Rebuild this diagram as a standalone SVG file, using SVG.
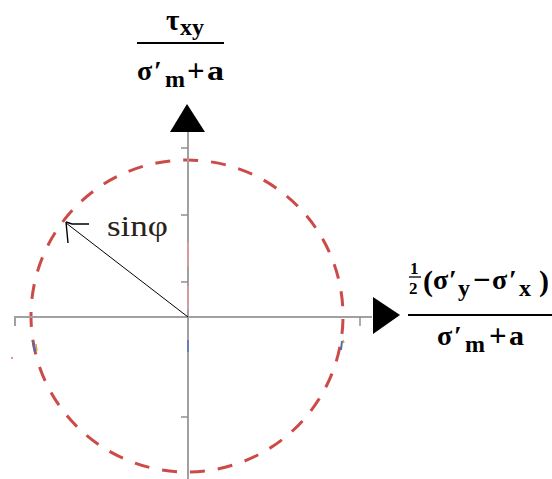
<svg xmlns="http://www.w3.org/2000/svg" width="552" height="479" viewBox="0 0 552 479">
<style>
.ax{stroke:#a0a0a0;stroke-width:2;fill:none}
.tk{stroke:#909090;stroke-width:1.5;fill:none}
.lbl{font-family:"Liberation Serif","DejaVu Serif",serif;font-weight:bold;fill:#000}
.big{font-size:28px}
.sub{font-size:24px}
.circ{fill:none;stroke:#cc4a48;stroke-width:3;stroke-dasharray:15 13;stroke-dashoffset:-3}
</style>
<rect width="552" height="479" fill="#fff"/>
<g id="circle">
<circle class="circ" cx="187" cy="316" r="156"/>
</g>
<g id="connectors">
<g id="y-axis">
<line class="ax" x1="188" y1="132" x2="188" y2="479"/>
<path class="tk" d="M181,148H188M181,215H188M181,282H188M181,417H188"/>
<line x1="188" y1="242" x2="188" y2="266" stroke="#e49a9a" stroke-width="1.5"/>
<line x1="188" y1="286" x2="188" y2="310" stroke="#e49a9a" stroke-width="1.5"/>
<line x1="188" y1="340" x2="188" y2="352" stroke="#6a7fb5" stroke-width="2"/>
<polygon points="187,104 170,132 205,132" fill="#000"/>
</g>
<g id="x-axis">
<polyline class="ax" points="15,326 15,317 372,317"/>
<line class="tk" x1="360" y1="317" x2="360" y2="326"/>
<polygon points="373,297 373,334 400,315" fill="#000"/>
</g>
<g id="sin-arrow">
<line x1="188" y1="317" x2="66" y2="223" stroke="#000" stroke-width="1"/>
<path d="M89,224H72M66,222L68,243M66,222L72,224" stroke="#000" stroke-width="1.4" fill="none"/>
</g>
<g id="marks">
<path d="M33,342L35,352" stroke="#4a6fb5" stroke-width="2"/>
<path d="M36,344L37,351" stroke="#e0a040" stroke-width="1.5"/>
<path d="M342,341L341,350" stroke="#4a6fb5" stroke-width="2"/>
<path d="M343,340L344,343" stroke="#e0a040" stroke-width="1.5"/>
<circle cx="12" cy="358" r="1" fill="#e07050"/>
</g>
</g>
<g id="label-sin">
<text x="107" y="236" font-family="'Liberation Serif','Times New Roman',serif" font-size="29" textLength="61" lengthAdjust="spacingAndGlyphs" fill="#2a2218">sinφ</text>
</g>
<g id="label-y">
<text class="lbl"><tspan x="166" y="30" font-size="29">τ</tspan><tspan class="sub" x="180" y="35">xy</tspan></text>
<line x1="137" y1="43" x2="224" y2="43" stroke="#000" stroke-width="2"/>
<text class="lbl"><tspan class="big" x="137" y="80">σ</tspan><tspan class="big" x="154" y="80">′</tspan><tspan class="sub" x="165" y="87">m</tspan><tspan x="187" y="81" font-size="31">+</tspan><tspan class="big" x="207" y="80" textLength="17" lengthAdjust="spacingAndGlyphs">a</tspan></text>
</g>
<g id="label-x">
<text class="lbl" font-size="17"><tspan x="410" y="274">1</tspan><tspan x="409" y="294">2</tspan></text>
<line x1="409" y1="277" x2="421" y2="277" stroke="#000" stroke-width="1.3"/>
<text class="lbl"><tspan x="423" y="291" font-size="30">(</tspan><tspan class="big" x="433" y="289">σ</tspan><tspan class="big" x="449" y="289">′</tspan><tspan class="sub" x="458" y="296">y</tspan><tspan x="473" y="290" font-size="31">−</tspan><tspan class="big" x="492" y="289">σ</tspan><tspan class="big" x="509" y="289">′</tspan><tspan class="sub" x="519" y="296">x</tspan><tspan x="539" y="291" font-size="30">)</tspan></text>
<line x1="408" y1="315" x2="552" y2="315" stroke="#000" stroke-width="2"/>
<text class="lbl"><tspan class="big" x="437" y="345">σ</tspan><tspan class="big" x="454" y="345">′</tspan><tspan class="sub" x="465" y="352">m</tspan><tspan x="489" y="346" font-size="31">+</tspan><tspan class="big" x="509" y="345" textLength="15" lengthAdjust="spacingAndGlyphs">a</tspan></text>
</g>
</svg>
